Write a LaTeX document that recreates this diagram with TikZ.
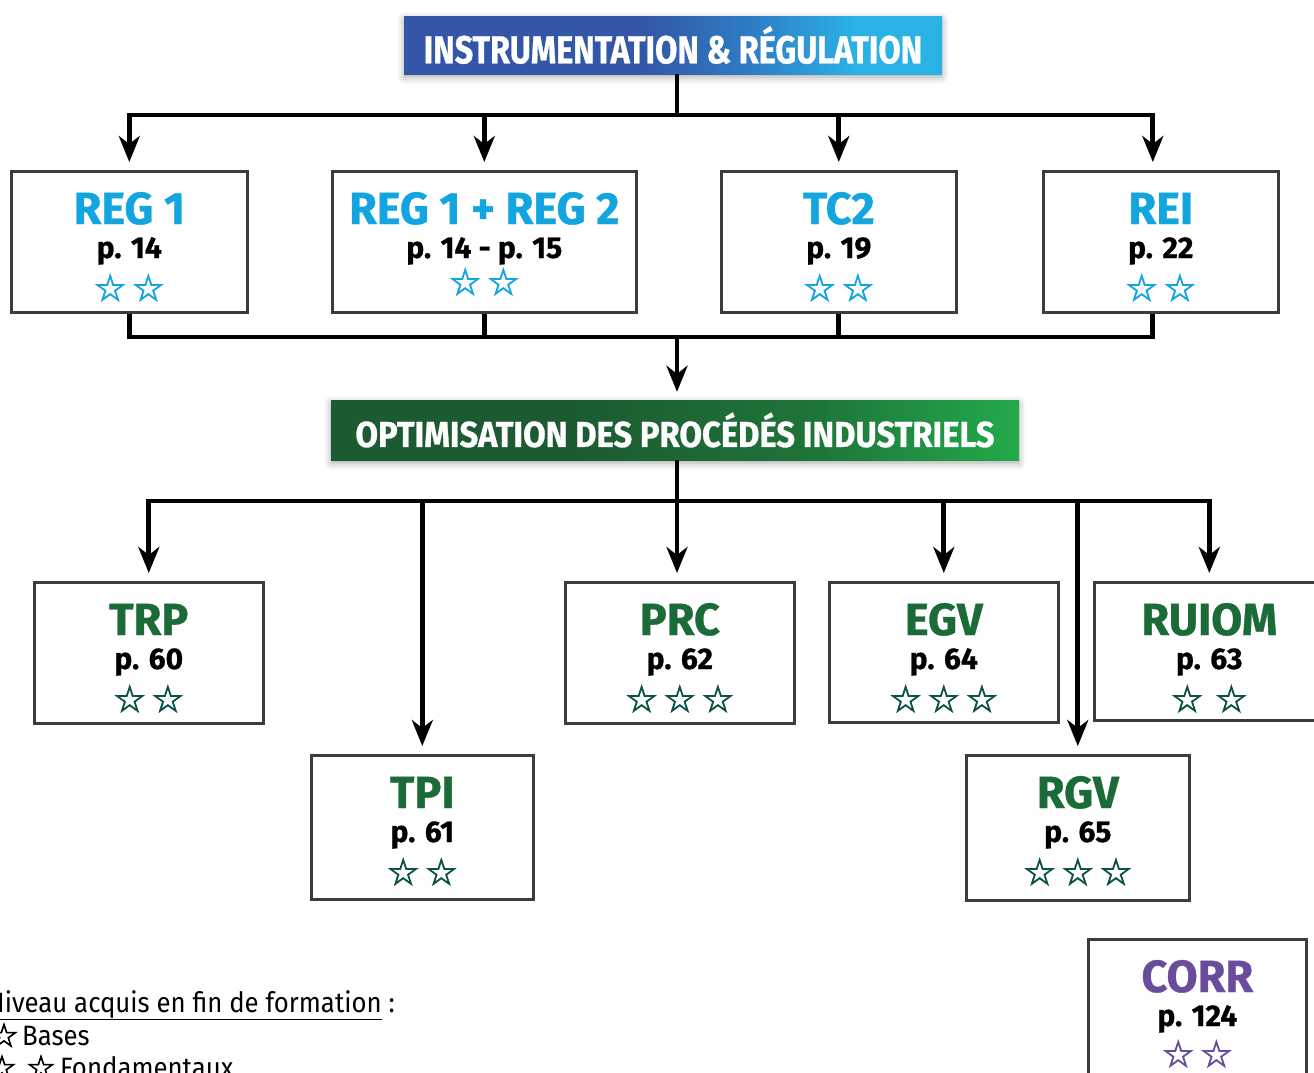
\documentclass[tikz,border=0pt]{standalone}
\usepackage{fontspec}
\setmainfont{Fira Sans}
\newfontfamily\din[FakeStretch=0.83, FakeBold=0.8]{Fira Sans}
\newfontfamily\dinb[FakeStretch=0.91, FakeBold=0.8]{Fira Sans}
\newfontfamily\dinw[FakeBold=0.8]{Fira Sans}
\newfontfamily\legf[FakeStretch=0.92]{Fira Sans}
\newfontfamily\sym[FakeBold=2]{DejaVu Sans}
\usetikzlibrary{arrows.meta,shadows.blur,calc}
\definecolor{cblue}{HTML}{12A5E0}
\definecolor{cgreen}{HTML}{1B6B38}
\definecolor{cteal}{HTML}{0D5246}
\definecolor{cpurple}{HTML}{6A4C9C}
\definecolor{bordc}{HTML}{3C3C3C}
\definecolor{bl1}{HTML}{3456A6}
\definecolor{blm}{HTML}{2E7CC3}
\definecolor{bl2}{HTML}{2BB2E5}
\definecolor{gr1}{HTML}{1C5A31}
\definecolor{grm}{HTML}{1E7439}
\definecolor{gr2}{HTML}{23AA4B}
\pgfdeclarehorizontalshading{blueband}{100bp}{color(0bp)=(bl1); color(47bp)=(bl1); color(57bp)=(blm); color(67bp)=(bl2); color(100bp)=(bl2)}
\pgfdeclarehorizontalshading{greenband}{100bp}{color(0bp)=(gr1); color(42bp)=(gr1); color(60bp)=(grm); color(75bp)=(gr2); color(100bp)=(gr2)}
\tikzset{
  box/.style={draw=bordc, line width=2.6pt, fill=white, inner sep=0pt},
  ttl/.style={font=\dinw\bfseries\fontsize{45}{45}\selectfont, inner sep=0pt},
  pg/.style={font=\dinw\bfseries\fontsize{30}{30}\selectfont, inner sep=0pt, text=black},
  st/.style={font=\sym\fontsize{37}{37}\selectfont, inner sep=0pt},
  ttlB/.style={text=cblue}, stB/.style={text=cblue},
  ttlG/.style={text=cgreen}, stG/.style={text=cteal},
  ttlP/.style={text=cpurple}, stP/.style={text=cpurple},
  hdr/.style={inner sep=0pt, text=white, font=\din\bfseries\fontsize{39}{39}\selectfont,
    blur shadow={shadow xshift=0pt, shadow yshift=-3pt, shadow blur radius=7pt, shadow opacity=35}},
  ln/.style={line width=4.8pt, line join=miter, draw=black},
  arr/.style={ln, -{Stealth[length=26pt,width=21pt,inset=8pt]}, shorten >=8pt},
  leg/.style={font=\legf\fontsize{28}{28}\selectfont, inner sep=0pt, text=black},
  legs/.style={font=\sym\fontsize{33}{33}\selectfont, inner sep=0pt, text=black}
}
\newcommand\mkbox[9][131]{%
  \node[box, minimum width=#4pt, minimum height=#5pt, anchor=north west] (#2) at #3 {};
  \node[ttl, ttl#6, anchor=base] (#2-t) at ($(#2.north)+(0,54)$) {#7};
  \node[pg, anchor=base] (#2-p) at ($(#2.north)+(0,88)$) {#8};
  \node[st, st#6, anchor=base] (#2-s) at ($(#2.north)+(0,#1)$) {#9};
}
\newcommand\twost{☆\hspace{5pt}☆}
\newcommand\threest{☆\hspace{5pt}☆\hspace{5pt}☆}
\begin{document}
\begin{tikzpicture}[x=1pt,y=-1pt]
\useasboundingbox (0,0) rectangle (1314,1072);
% headers
\node[hdr, shading=blueband, minimum width=538pt, minimum height=58pt] (t1) at (673,45) {INSTRUMENTATION \& RÉGULATION};
% row 1
\mkbox{b1}{(10,170)}{236}{141}{B}{REG 1}{p. 14}{\twost}
\mkbox[125]{b2}{(331,170)}{304}{141}{B}{REG 1 + REG 2}{p. 14 - p. 15}{\twost}
\mkbox{b3}{(720,170)}{235}{141}{B}{TC2}{p. 19}{\twost}
\mkbox{b4}{(1042,170)}{235}{141}{B}{REI}{p. 22}{\twost}
% second header
\node[hdr, shading=greenband, minimum width=688pt, minimum height=60pt, font=\dinb\bfseries\fontsize{36}{36}\selectfont] (t2) at (675,430) {OPTIMISATION DES PROCÉDÉS INDUSTRIELS};
% row 2
\mkbox{trp}{(33,581)}{229}{141}{G}{TRP}{p. 60}{\twost}
\mkbox{prc}{(564,581)}{229}{141}{G}{PRC}{p. 62}{\threest}
\mkbox{egv}{(828,581)}{229}{140}{G}{EGV}{p. 64}{\threest}
\mkbox{ruiom}{(1093,581)}{230}{138}{G}{RUIOM}{p. 63}{☆\hspace{11pt}☆}
\mkbox{tpi}{(310,754)}{222}{144}{G}{TPI}{p. 61}{\twost}
\mkbox{rgv}{(965,754)}{223}{145}{G}{RGV}{p. 65}{\threest}
\mkbox[129]{corr}{(1087,938)}{218}{160}{P}{CORR}{p. 124}{\twost}
% connectors top
\coordinate (bus1) at (677,115);
\draw[arr] ([xshift=4pt]t1.south) |- (bus1) -| (b1.north);
\draw[arr] ([xshift=4pt]t1.south) |- (bus1) -| (b2.north);
\draw[arr] ([xshift=4pt]t1.south) |- (bus1) -| (b3.north);
\draw[arr] ([xshift=4pt]t1.south) |- (bus1) -| ([xshift=-8pt]b4.north);
\coordinate (bus2) at (677,337);
\draw[ln] (b1.south) |- (bus2);
\draw[ln] (b2.south) |- (bus2);
\draw[ln] (b3.south) |- (bus2);
\draw[ln] ([xshift=-8pt]b4.south) |- (bus2);
\draw[arr] (bus2) -- (bus2 |- t2.north);
% connectors bottom
\coordinate (bus3) at (677,501);
\draw[arr] (bus3 |- t2.south) -- (bus3) -| (trp.north);
\draw[arr] (bus3 |- t2.south) -- (bus3) -| (tpi.north);
\draw[arr] (bus3 |- t2.south) -- (bus3 |- prc.north);
\draw[arr] (bus3 |- t2.south) -- (bus3) -| (egv.north);
\draw[arr] (bus3 |- t2.south) -- (bus3) -| (rgv.north);
\draw[arr] (bus3 |- t2.south) -- (bus3) -| (ruiom.north);
% legend
\node[leg, anchor=base west] (lg1) at (-13,1012) {\underline{Niveau acquis en fin de formation} :};
\node[legs, anchor=base west] (lg2s) at (-11,1047) {☆};
\node[leg, anchor=base west] (lg2) at (22,1045) {Bases};
\node[legs, anchor=base west] (lg3s) at (-13,1079) {☆};
\node[legs, anchor=base west] (lg3t) at (26,1079) {☆};
\node[leg, anchor=base west] (lg3) at (60,1077) {Fondamentaux};
\end{tikzpicture}
\end{document}
